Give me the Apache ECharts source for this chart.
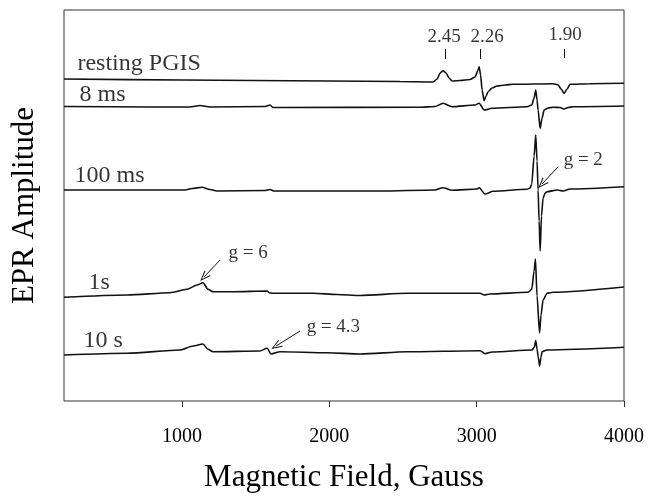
<!DOCTYPE html>
<html>
<head>
<meta charset="utf-8">
<script src="https://cdn.jsdelivr.net/npm/echarts@6/dist/echarts.min.js"></script>
<style>html,body{margin:0;padding:0;background:#fff}#c{width:651px;height:499px}</style>
</head>
<body>
<div id="c"></div>
<script>
// Field axis (Gauss)
const fieldMin = 200, fieldMax = 4000;
const fieldTicks = [1000, 2000, 3000, 4000];
const ampMin = 0, ampMax = 391;

// Spectra: [field (G), amplitude (arb., stacked)]
const resting = [[200,322],[1000,321],[2480,319.5],[2704,319],[2732,322],[2752,328],[2772,330.3],[2793,328],[2813,323],[2833,320],[2888,320.5],[2956,321.5],[2989,324],[3010,331],[3017,334.3],[3027,326],[3037,311],[3051,300.3],[3064,305],[3078,309.3],[3105,313],[3139,315],[3193,316],[3247,316.7],[3519,317.3],[3553,316],[3573,312],[3593,307.7],[3614,312],[3634,316.7],[3770,317.3],[4000,317.7]];
const ms8 = [[200,294.5],[784,294],[1055,294],[1123,295.5],[1191,294],[1564,294.5],[1598,296],[1618,293.5],[1646,293.5],[2616,293.7],[2718,294.5],[2772,297.7],[2833,294.3],[2989,296],[3017,297.7],[3051,291],[3105,292.7],[3342,294.3],[3374,296],[3390,303],[3401,311],[3410,301],[3417,291],[3431,272.7],[3444,283],[3458,291],[3485,293],[3519,293.7],[3566,293.5],[3593,292],[3621,293.5],[3655,294.3],[4000,295]];
const ms100 = [[200,211],[1021,211],[1069,212.5],[1137,213.7],[1191,211.5],[1238,210],[1564,210.5],[1598,211.5],[1625,210],[2345,210],[2718,211],[2772,213.3],[2833,210.7],[3003,212],[3017,213.3],[3057,207],[3112,209.7],[3342,211.7],[3363,213],[3374,217],[3390,245],[3401,266],[3410,240],[3417,211],[3424,180],[3431,150],[3440,185],[3451,203],[3465,208],[3478,209.3],[3546,211],[3587,210],[3634,212],[4000,214.3]];
const s1 = [[200,103.7],[628,106],[919,108.3],[1035,111.7],[1103,116],[1143,118.3],[1177,111.7],[1211,109.3],[1347,109.3],[1578,110],[1591,108.3],[1618,107.7],[1890,107.7],[2053,106.5],[2209,105.5],[2528,107.7],[3023,107.7],[3051,106],[3091,107],[3349,108.7],[3374,111.7],[3390,130],[3399,142],[3410,105],[3427,68],[3437,86],[3451,101],[3478,107.7],[3519,108.7],[4000,114]];
const s10 = [[200,46],[628,47.7],[987,51],[1076,55],[1143,57],[1177,51.7],[1211,49.3],[1530,50],[1578,52.7],[1605,47],[1666,49.3],[1985,48.3],[2209,47],[2528,49.3],[3023,50.3],[3057,47.3],[3105,49],[3376,51],[3392,54],[3401,60.5],[3410,52],[3418,44],[3427,35],[3437,44],[3444,49.3],[3478,51],[4000,53.7]];

// Annotations in data coordinates
const traceLabels = [['resting PGIS',288,337],['8 ms',302,306],['100 ms',268,225],['1s',363,118],['10 s',329,60]];
const gValueLabels = [['2.45',2779,364],['2.26',3071,364],['1.90',3600,366]];
const gFactorLabels = [['g = 2',3587,241],['g = 6',1313,148],['g = 4.3',1843,74]];
const gTicks = [[2786,352,342],[3024,352,342],[3593,352,343]];
const arrows = [[3553,234.3,3444,217],[1259,141,1150,124],[1802,70,1639,55]];

const FONT = 'Liberation Serif';
const chart = echarts.init(document.getElementById('c'), null, {renderer:'canvas'});

function spectrum(name, data){
  return {name, type:'line', data, symbol:'none', smooth:0.25, smoothMonotone:'x',
    lineStyle:{color:'#111', width:1.6}, z:3};
}

const openArrow = 'path://M0,0 L-4,11 L-3,11.4 L0,2.6 L3,11.4 L4,11 Z';

const labelSeries = {
  type:'scatter', symbolSize:1, itemStyle:{color:'rgba(0,0,0,0)'}, silent:true, z:5,
  data: [].concat(
    traceLabels.map(t => ({value:[t[1],t[2]], label:{show:true, formatter:t[0], position:'right', distance:0, fontFamily:FONT, fontSize:24, color:'#000'}})),
    gValueLabels.map(t => ({value:[t[1],t[2]], label:{show:true, formatter:t[0], position:'inside', fontFamily:FONT, fontSize:19, color:'#000'}})),
    gFactorLabels.map(t => ({value:[t[1],t[2]], label:{show:true, formatter:t[0], position:'right', distance:0, fontFamily:FONT, fontSize:19, color:'#000'}}))
  ),
  markLine:{
    silent:true, animation:false, label:{show:false},
    lineStyle:{color:'#111', width:1, type:'solid'},
    symbol:['none','none'],
    data: [].concat(
      gTicks.map(t => [{coord:[t[0],t[1]], symbol:'none'},{coord:[t[0],t[2]], symbol:'none'}]),
      arrows.map(a => [{coord:[a[0],a[1]], symbol:'none'},{coord:[a[2],a[3]], symbol:openArrow, symbolSize:[8,11]}])
    )
  }
};

chart.setOption({
  animation:false,
  grid:{left:64, right:27, top:10, bottom:98, show:true, borderColor:'#333', borderWidth:1, backgroundColor:'transparent'},
  xAxis:{type:'value', min:fieldMin, max:fieldMax,
    name:'Magnetic Field, Gauss', nameLocation:'middle', nameGap:61,
    nameTextStyle:{fontFamily:FONT, fontSize:31, color:'#000'},
    axisLine:{show:false}, splitLine:{show:false},
    axisTick:{show:true, inside:false, length:6, customValues:fieldTicks, lineStyle:{color:'#333'}},
    axisLabel:{customValues:fieldTicks, margin:26, fontFamily:FONT, fontSize:20, color:'#000', formatter:v => String(v)}
  },
  yAxis:{type:'value', min:ampMin, max:ampMax,
    name:'EPR Amplitude', nameLocation:'middle', nameGap:24,
    nameTextStyle:{fontFamily:FONT, fontSize:31, color:'#000'},
    axisLine:{show:false}, axisTick:{show:false}, axisLabel:{show:false}, splitLine:{show:false}
  },
  series:[spectrum('resting PGIS',resting), spectrum('8 ms',ms8), spectrum('100 ms',ms100), spectrum('1s',s1), spectrum('10 s',s10), labelSeries]
});
</script>
</body>
</html>
